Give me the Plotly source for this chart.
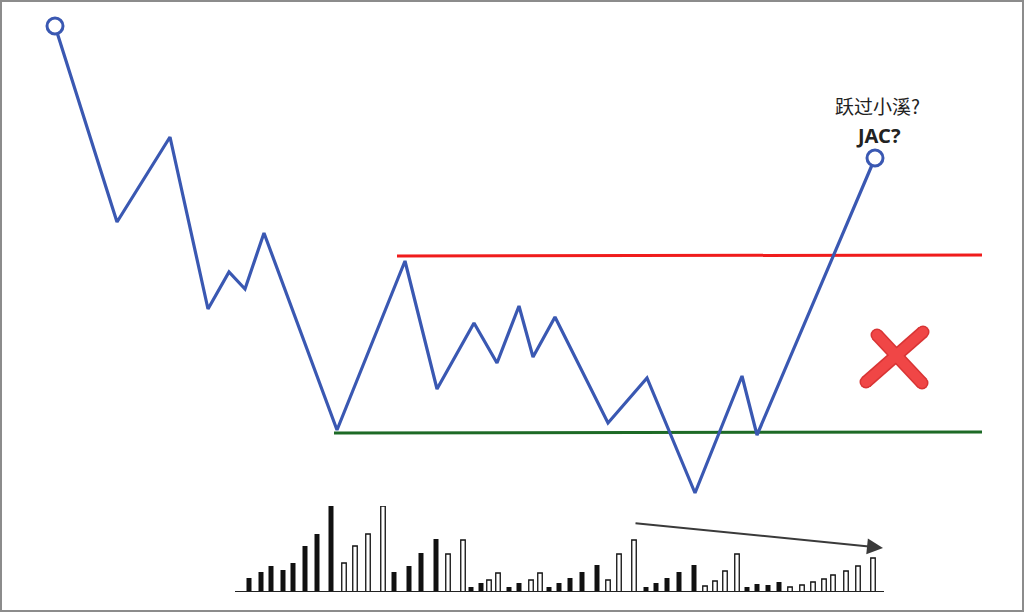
import plotly.graph_objects as go

# ---- price path (time, price) ----
time_pts = [55, 117, 170, 208, 229, 245, 264, 337, 405, 437, 474, 497, 519, 533, 555, 608, 647, 695, 742, 757, 875]
price_pts = [586, 390, 475, 303, 340, 323, 379, 182, 351, 223, 289, 249, 306, 255, 295, 189, 234, 119, 236, 177, 454]

# ---- range levels ----
resistance_x = [397, 982]
resistance_y = [356, 357]
support_x = [334, 982]
support_y = [179, 180]

# ---- volume bars ----
vol_time = [249, 261, 271, 283, 293, 305, 317, 331, 344, 355, 368, 383, 394, 409, 421, 436, 448, 463,
            471, 481, 489, 498, 509, 519, 531, 540, 549, 559, 570, 582, 597, 608, 619, 634, 646, 656,
            667, 679, 694, 705, 715, 725, 737, 747, 757, 768, 779, 790, 802, 813, 824, 833, 846, 858, 873]
vol_vals = [14, 20, 26, 22, 29, 46, 58, 86, 29, 46, 58, 86, 20, 26, 39, 53, 38, 52,
            5, 9, 12, 19, 5, 9, 12, 19, 5, 9, 14, 20, 27, 12, 38, 52, 5, 9,
            14, 20, 27, 6, 11, 21, 38, 5, 8, 7, 10, 5, 7, 10, 13, 17, 21, 26, 34]
vol_kind = list("BBBBBBBBWWWWBBBBWWBBWWBBWWBBBBBWWWBBBBBWWWWBBBBWWWWWWWW")

# ---- volume trend arrow ----
arrow_time = [634, 883]
arrow_price = [89, 64]

# ---- cross mark ----
cross_a_x = [877, 922]
cross_a_y = [277, 229]
cross_b_x = [923, 866]
cross_b_y = [280, 230]

label_cn = "跃过小溪?"
label_en = "JAC?"

blue = "#3a58b2"

fig = go.Figure()

# volume bars
bx = [t for t, k in zip(vol_time, vol_kind) if k == "B"]
by = [v for v, k in zip(vol_vals, vol_kind) if k == "B"]
wx = [t for t, k in zip(vol_time, vol_kind) if k == "W"]
wy = [v for v, k in zip(vol_vals, vol_kind) if k == "W"]
fig.add_trace(go.Bar(x=bx, y=by, width=5, yaxis="y2", marker=dict(color="#111111", line=dict(width=0))))
fig.add_trace(go.Bar(x=wx, y=wy, width=4.5, yaxis="y2",
                     marker=dict(color="white", line=dict(color="#111111", width=1.3))))

# range lines
fig.add_trace(go.Scatter(x=resistance_x, y=resistance_y, mode="lines",
                         line=dict(color="#f01c1c", width=3)))
fig.add_trace(go.Scatter(x=support_x, y=support_y, mode="lines",
                         line=dict(color="#1d6a26", width=3)))

# price path
fig.add_trace(go.Scatter(x=time_pts, y=price_pts, mode="lines",
                         line=dict(color=blue, width=3.2)))
fig.add_trace(go.Scatter(x=[time_pts[0], time_pts[-1]], y=[price_pts[0], price_pts[-1]], mode="markers",
                         marker=dict(size=16, color="white", line=dict(color=blue, width=3))))

# cross mark
for cx, cy in [(cross_a_x, cross_a_y), (cross_b_x, cross_b_y)]:
    fig.add_trace(go.Scatter(x=cx, y=cy, mode="lines+markers",
                             line=dict(color="#d83434", width=13),
                             marker=dict(size=13, color="#d83434")))
for cx, cy in [(cross_a_x, cross_a_y), (cross_b_x, cross_b_y)]:
    fig.add_trace(go.Scatter(x=cx, y=cy, mode="lines+markers",
                             line=dict(color="#f04646", width=10),
                             marker=dict(size=10, color="#f04646")))

# volume baseline
fig.add_shape(type="line", xref="x", yref="y2", x0=235, x1=884, y0=0, y1=0,
              line=dict(color="#222222", width=2))

# trend arrow
fig.add_annotation(x=arrow_time[1], y=arrow_price[1], ax=arrow_time[0], ay=arrow_price[0],
                   xref="x", yref="y", axref="x", ayref="y", text="", showarrow=True,
                   arrowhead=2, arrowsize=1.6, arrowwidth=2, arrowcolor="#3a3a3a")

# labels
fig.add_annotation(x=877, y=492, xref="x", yref="y", text=label_cn, showarrow=False,
                   yanchor="bottom", borderpad=0,
                   font=dict(family="Noto Sans CJK SC", size=19, color="#222222"))
fig.add_annotation(x=878, y=491, xref="x", yref="y", text="<b>" + label_en + "</b>", showarrow=False,
                   yanchor="top", borderpad=0,
                   font=dict(family="Noto Sans", size=20, color="#222222"))

# frame
fig.add_shape(type="rect", xref="paper", yref="paper", x0=0, x1=1, y0=0, y1=1,
              line=dict(color="#8c8c8c", width=4))

fig.update_layout(
    width=1024, height=612,
    margin=dict(l=0, r=0, t=0, b=0),
    paper_bgcolor="white", plot_bgcolor="rgba(0,0,0,0)",
    showlegend=False, barmode="overlay",
    xaxis=dict(range=[0, 1024], visible=False, fixedrange=True),
    yaxis=dict(range=[0, 612], visible=False, domain=[0, 1], fixedrange=True),
    yaxis2=dict(range=[0, 86], visible=False, domain=[20 / 612, 106 / 612], anchor="x", fixedrange=True),
)

fig.write_html("out.html", config={"displayModeBar": False},
               post_script="document.body.style.margin='0';document.body.style.overflow='hidden';")
